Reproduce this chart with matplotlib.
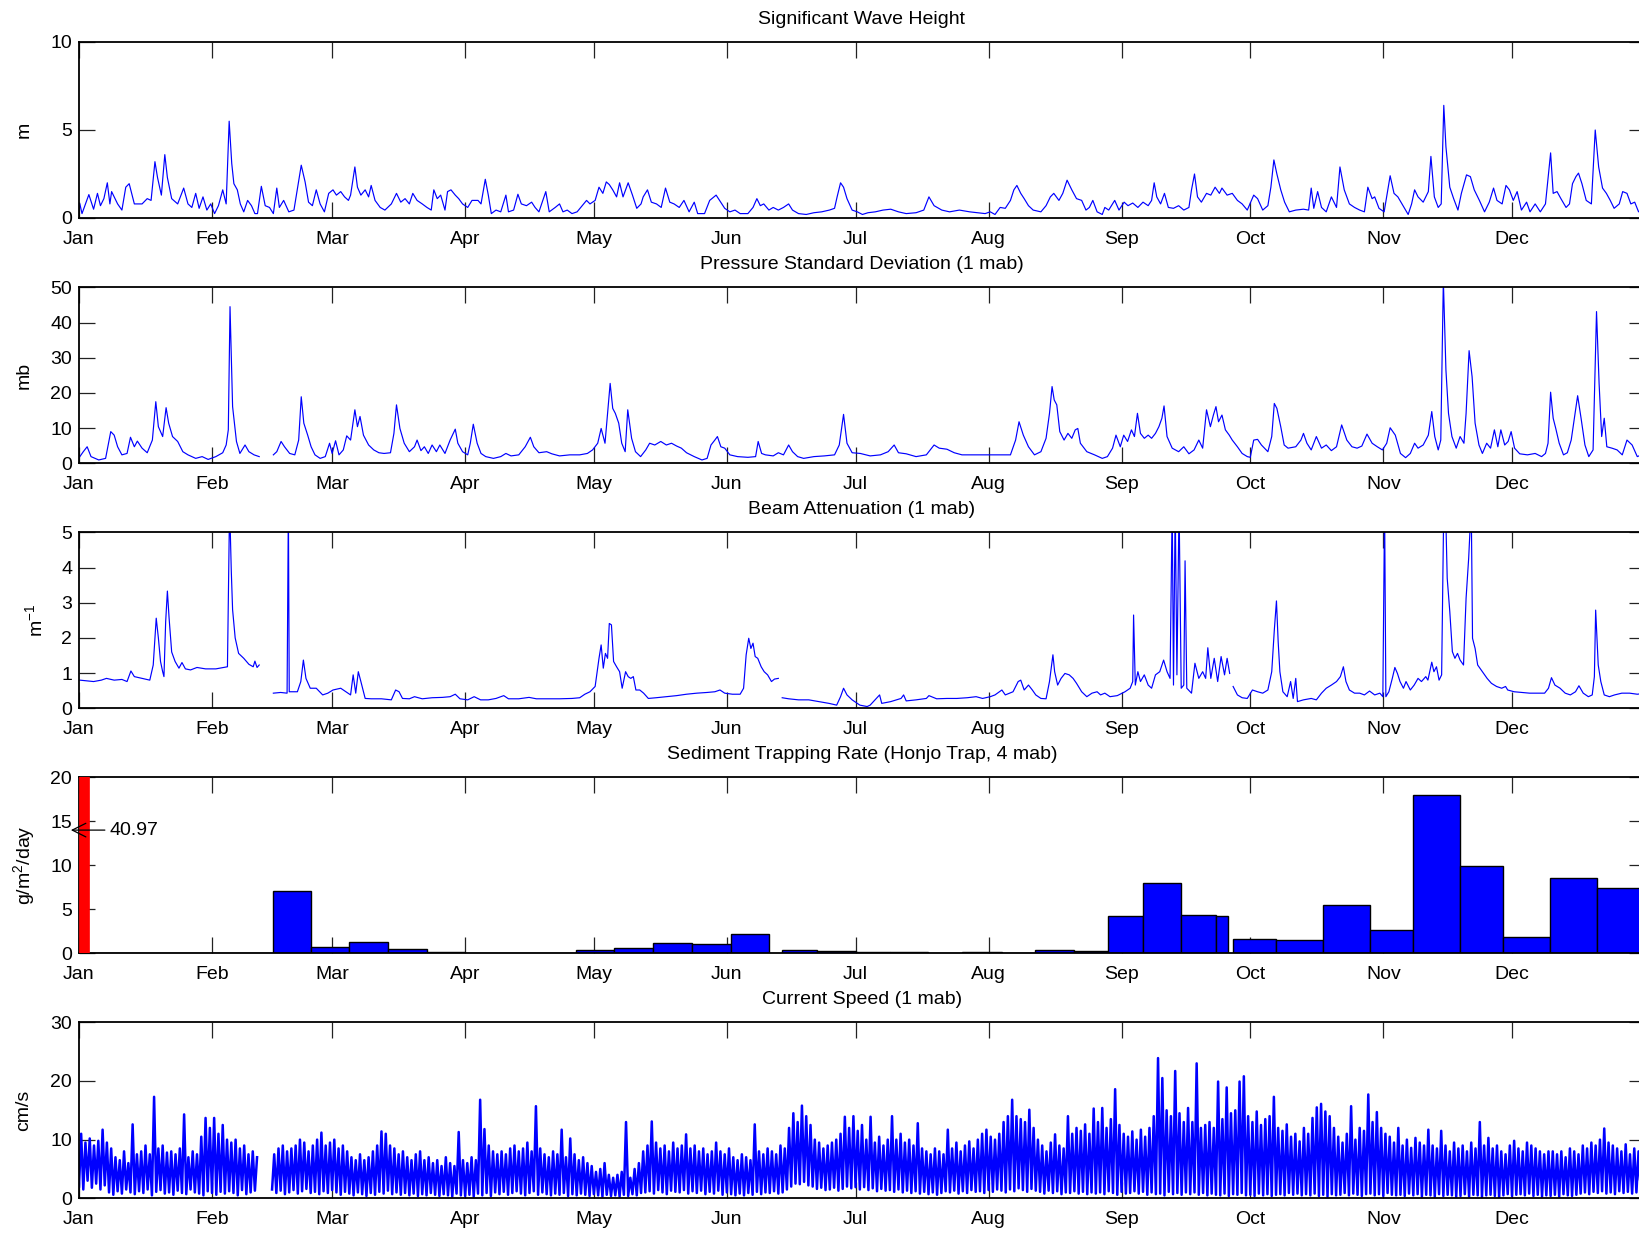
import numpy as np
import matplotlib
matplotlib.use('Agg')
import matplotlib.pyplot as plt

plt.rcParams['font.family'] = ['Liberation Sans', 'DejaVu Sans']
plt.rcParams['mathtext.default'] = 'regular'

# %% data (x in days since Jan 1)
month_days = [0, 31, 59, 90, 120, 151, 181, 212, 243, 273, 304, 334]
month_labels = ['Jan', 'Feb', 'Mar', 'Apr', 'May', 'Jun', 'Jul', 'Aug', 'Sep', 'Oct', 'Nov', 'Dec']

# significant wave height (day, m)
wave = [
    (0.2, 0.8), (0.7, 0.25), (2.3, 1.33), (3.4, 0.5), (4.3, 1.4), (5.0, 0.7), (5.8, 1.1), (6.6, 2.0),
    (7.2, 0.8), (7.6, 1.5), (9.0, 0.8), (10.0, 0.45), (10.9, 1.75), (11.7, 1.95), (12.9, 0.8), (14.7, 0.8),
    (15.9, 1.1), (16.8, 1.0), (17.7, 3.2), (18.3, 2.3), (19.2, 1.3), (20.0, 3.6), (20.6, 2.3), (21.6, 1.1),
    (23.0, 0.8), (24.4, 1.7), (25.4, 0.8), (26.3, 0.6), (27.2, 1.4), (28.0, 0.55), (28.9, 1.2), (29.8, 0.45),
    (30.7, 0.8), (31.6, 0.25), (32.5, 0.7), (33.5, 1.6), (34.3, 0.8), (35.0, 5.5), (35.6, 3.1), (36.1, 1.95),
    (36.9, 1.6), (37.6, 0.8), (38.4, 0.35), (39.3, 1.0), (40.2, 0.7), (41.0, 0.25), (41.6, 0.25), (42.5, 1.8),
    (43.4, 0.7), (44.4, 0.6), (45.3, 0.25), (46.1, 1.7), (46.7, 0.6), (47.7, 1.0), (48.9, 0.35), (50.1, 0.45),
    (51.1, 1.95), (51.8, 3.0), (52.7, 2.05), (53.5, 0.9), (54.4, 0.7), (55.3, 1.6), (56.2, 0.8), (57.2, 0.35),
    (58.2, 1.4), (59.2, 1.6), (60.0, 1.3), (61.0, 1.5), (61.9, 1.2), (62.8, 1.0), (63.3, 1.3), (64.3, 2.9),
    (64.9, 1.75), (65.7, 1.3), (66.7, 1.6), (67.5, 1.2), (68.1, 1.85), (69.0, 1.0), (70.2, 0.6), (71.3, 0.45),
    (72.8, 0.8), (74.0, 1.4), (75.0, 0.9), (76.0, 1.1), (77.0, 0.8), (77.8, 1.4), (78.8, 1.0), (80.0, 0.8),
    (81.1, 0.6), (82.1, 0.45), (82.7, 1.6), (83.5, 1.1), (84.3, 1.3), (85.3, 0.45), (85.9, 1.5), (86.7, 1.6),
    (87.7, 1.3), (88.5, 1.1), (89.4, 0.8), (90.6, 0.6), (91.6, 1.0), (93.0, 1.0), (93.7, 0.8), (94.7, 2.2),
    (95.4, 1.3), (96.1, 0.25), (97.2, 0.45), (98.3, 0.35), (99.5, 1.3), (100.1, 0.35), (101.3, 0.45), (102.3, 1.35),
    (103.1, 0.8), (104.3, 0.7), (105.5, 0.9), (106.3, 0.6), (107.2, 0.35), (108.8, 1.5), (109.6, 0.35), (111.0, 0.6),
    (112.0, 0.8), (112.8, 0.35), (113.8, 0.45), (114.9, 0.25), (116.1, 0.35), (117.3, 0.7), (118.3, 1.0), (119.1, 0.8),
    (120.3, 1.0), (121.2, 1.75), (122.1, 1.4), (122.9, 2.05), (123.6, 1.9), (124.4, 1.6), (125.3, 1.2), (126.0, 2.0),
    (126.8, 1.2), (128.0, 2.0), (129.0, 1.3), (130.0, 0.55), (131.0, 0.8), (131.5, 1.2), (132.5, 1.6), (133.4, 0.9),
    (134.6, 0.8), (135.7, 0.6), (136.7, 1.7), (137.7, 0.9), (138.7, 0.8), (139.9, 0.6), (141.0, 1.0), (142.2, 0.35),
    (143.4, 0.9), (144.2, 0.25), (145.8, 0.25), (147.0, 1.0), (148.5, 1.3), (149.3, 1.0), (150.5, 0.55), (151.7, 0.35),
    (152.9, 0.45), (154.1, 0.25), (155.9, 0.25), (157.1, 0.6), (158.0, 1.1), (158.8, 0.7), (159.6, 0.8), (160.8, 0.45),
    (161.8, 0.6), (163.0, 0.45), (164.2, 0.6), (165.4, 0.8), (166.3, 0.45), (167.7, 0.25), (169.5, 0.2), (171.3, 0.3),
    (173.1, 0.35), (174.9, 0.45), (176.1, 0.55), (176.7, 1.2), (177.5, 2.0), (178.2, 1.75), (179.0, 1.1), (180.2, 0.45),
    (181.4, 0.35), (182.6, 0.2), (183.9, 0.3), (185.6, 0.35), (187.4, 0.45), (189.2, 0.5), (191.0, 0.35), (192.8, 0.25),
    (195.1, 0.3), (196.9, 0.45), (198.1, 1.2), (199.3, 0.7), (201.1, 0.45), (202.9, 0.35), (205.2, 0.45), (207.6, 0.35),
    (209.4, 0.3), (211.2, 0.25), (212.4, 0.35), (213.5, 0.2), (214.7, 0.6), (215.9, 0.55), (217.1, 1.0), (217.9, 1.6),
    (218.6, 1.85), (219.5, 1.4), (220.3, 1.1), (221.3, 0.7), (222.4, 0.45), (224.2, 0.35), (225.4, 0.7), (226.4, 1.2),
    (227.2, 1.4), (228.4, 1.0), (229.3, 1.4), (230.3, 2.15), (231.4, 1.6), (232.5, 1.1), (233.7, 1.0), (234.7, 0.45),
    (235.5, 0.6), (236.3, 1.0), (237.3, 0.35), (238.5, 0.2), (239.1, 0.6), (240.0, 0.45), (241.4, 1.0), (242.4, 0.45),
    (243.6, 0.9), (244.5, 0.7), (245.6, 0.85), (246.8, 0.6), (248.0, 0.9), (249.2, 0.7), (250.0, 1.0), (250.6, 2.0),
    (251.2, 1.2), (252.1, 0.8), (253.0, 1.4), (253.9, 0.6), (255.1, 0.55), (256.3, 0.7), (257.5, 0.45), (258.7, 0.6),
    (259.3, 1.6), (260.0, 2.5), (260.7, 1.2), (261.6, 0.9), (262.8, 1.4), (263.8, 1.3), (264.8, 1.75), (265.8, 1.4),
    (266.4, 1.7), (267.6, 1.3), (268.8, 1.4), (270.0, 1.0), (271.1, 0.8), (272.3, 0.45), (273.8, 1.3), (274.7, 1.1),
    (275.9, 0.45), (277.1, 0.7), (277.8, 1.75), (278.5, 3.3), (279.2, 2.5), (280.1, 1.6), (281.0, 0.9), (282.1, 0.35),
    (283.6, 0.45), (285.4, 0.5), (286.6, 0.45), (287.2, 1.7), (287.8, 0.55), (288.7, 1.5), (289.6, 0.6), (290.7, 0.35),
    (291.9, 1.2), (293.1, 0.6), (293.9, 2.9), (294.9, 1.6), (296.1, 0.8), (297.3, 0.6), (298.5, 0.45), (299.6, 0.35),
    (300.4, 1.75), (301.4, 1.1), (302.0, 1.2), (303.0, 0.55), (304.2, 0.35), (305.6, 2.4), (306.5, 1.4), (307.4, 1.2),
    (308.6, 0.7), (309.8, 0.2), (310.6, 0.8), (311.3, 1.6), (312.1, 1.2), (313.3, 0.9), (314.5, 1.5), (315.1, 3.5),
    (315.9, 1.2), (316.8, 0.6), (317.5, 0.8), (318.1, 6.4), (318.6, 4.05), (319.5, 1.75), (320.4, 1.1), (321.4, 0.45),
    (322.2, 1.4), (323.4, 2.45), (324.3, 2.35), (325.2, 1.6), (326.4, 1.0), (327.6, 0.35), (328.7, 0.9), (329.7, 1.7),
    (330.5, 1.0), (331.7, 0.8), (332.6, 1.85), (333.4, 1.6), (334.3, 1.0), (335.2, 1.5), (336.2, 0.45), (337.4, 0.9),
    (338.2, 0.35), (339.4, 0.8), (340.6, 0.35), (341.8, 0.8), (343.0, 3.7), (343.6, 1.4), (344.5, 1.5), (345.4, 1.1),
    (346.6, 0.6), (347.4, 0.8), (348.1, 1.95), (348.9, 2.35), (349.5, 2.55), (350.3, 1.95), (351.3, 1.0), (352.5, 0.8),
    (353.4, 5.0), (354.2, 2.9), (355.1, 1.7), (356.0, 1.4), (356.9, 1.0), (357.8, 0.55), (359.0, 0.8), (359.8, 1.5),
    (360.8, 1.4), (361.7, 0.8), (362.6, 0.9), (363.5, 0.35), (364.6, 0.6),
]

# pressure standard deviation at 1 mab (day, mb)
psd = [
    (0.2, 1.9), (1.0, 3.3), (1.9, 4.7), (2.8, 1.9), (4.6, 0.95), (6.2, 1.4), (7.4, 9.0), (8.2, 8.0),
    (9.0, 4.7), (10.0, 2.4), (11.2, 2.8), (12.0, 7.4), (12.9, 4.7), (13.6, 6.3), (14.7, 4.3), (15.9, 3.0),
    (17.1, 6.6), (17.9, 17.5), (18.5, 10.4), (19.5, 7.6), (20.3, 15.8), (20.9, 11.4), (21.8, 7.6), (23.0, 6.2),
    (24.2, 3.3), (25.4, 2.4), (27.2, 1.4), (28.7, 1.9), (30.1, 1.1), (31.9, 1.9), (33.5, 3.0), (34.3, 5.2),
    (34.8, 9.5), (35.2, 44.5), (35.8, 16.1), (36.7, 6.2), (37.5, 2.8), (38.7, 5.2), (39.6, 3.3), (40.8, 2.4),
    (42.0, 1.9), (43.6, np.nan), (45.3, 2.4), (46.1, 3.3), (47.1, 6.2), (47.9, 4.7), (49.1, 2.8), (50.3, 2.4),
    (51.2, 6.6), (51.8, 18.9), (52.4, 11.4), (53.3, 8.0), (54.1, 4.7), (55.0, 2.4), (56.2, 1.4), (57.4, 1.9),
    (58.4, 5.7), (59.0, 2.8), (59.8, 6.4), (60.6, 2.4), (61.6, 3.8), (62.4, 7.8), (63.3, 6.6), (64.3, 15.2),
    (64.9, 10.4), (65.5, 13.3), (66.3, 8.0), (67.5, 5.2), (68.7, 3.8), (69.9, 3.0), (71.1, 2.8), (72.6, 3.0),
    (73.4, 8.5), (74.0, 16.6), (74.8, 9.9), (75.8, 5.7), (77.0, 3.3), (78.2, 4.7), (78.8, 6.6), (79.7, 3.6),
    (80.5, 4.7), (81.4, 2.8), (82.3, 5.2), (83.3, 3.3), (84.1, 5.2), (85.3, 2.8), (86.5, 6.6), (87.7, 9.7),
    (88.3, 5.7), (89.4, 3.3), (90.6, 2.4), (91.2, 5.7), (91.9, 11.1), (92.8, 5.7), (93.7, 2.8), (94.8, 1.9),
    (96.6, 1.4), (98.3, 1.9), (99.5, 2.8), (100.7, 2.1), (102.5, 2.4), (104.0, 4.7), (105.2, 7.4), (106.0, 4.7),
    (107.2, 3.0), (109.0, 3.3), (110.2, 2.7), (112.0, 2.1), (114.4, 2.4), (116.7, 2.4), (118.5, 2.8), (119.7, 3.8),
    (120.9, 5.7), (121.7, 9.9), (122.6, 5.7), (123.2, 14.2), (123.8, 22.7), (124.4, 15.6), (125.0, 14.2), (125.8, 11.4),
    (126.5, 5.7), (127.3, 3.3), (127.9, 15.2), (128.8, 7.1), (129.7, 3.3), (130.9, 1.9), (132.1, 3.8), (133.0, 5.7),
    (134.2, 5.2), (135.6, 6.2), (136.9, 5.2), (138.1, 5.7), (139.3, 4.9), (140.4, 4.3), (141.6, 3.0), (143.4, 1.9),
    (145.2, 0.95), (146.4, 1.4), (147.3, 5.2), (148.2, 6.6), (148.8, 7.6), (149.6, 4.7), (150.5, 4.3), (151.7, 2.4),
    (153.5, 1.9), (155.9, 1.7), (157.7, 1.9), (158.3, 6.2), (159.1, 2.8), (160.0, 2.4), (161.8, 2.1), (163.0, 3.0),
    (164.2, 2.4), (165.4, 5.2), (166.3, 3.3), (167.5, 1.9), (168.9, 1.4), (171.3, 1.9), (173.7, 2.1), (176.1, 2.4),
    (177.2, 5.2), (178.2, 13.9), (179.0, 5.7), (180.2, 3.0), (182.1, 2.8), (184.4, 2.1), (186.8, 2.4), (188.6, 3.3),
    (190.0, 5.2), (191.0, 3.0), (192.8, 2.7), (195.1, 1.9), (197.5, 2.4), (199.3, 5.2), (200.5, 4.3), (202.3, 4.0),
    (204.0, 3.0), (205.8, 2.4), (208.2, 2.4), (210.6, 2.4), (212.9, 2.4), (215.3, 2.4), (217.1, 2.4), (218.3, 6.6),
    (219.1, 11.8), (220.1, 8.0), (221.3, 4.7), (222.7, 2.4), (224.2, 3.3), (225.4, 7.1), (226.2, 14.2), (226.8, 21.8),
    (227.3, 18.0), (227.9, 16.6), (228.6, 9.0), (229.6, 6.6), (230.5, 8.5), (231.4, 7.1), (232.2, 9.5), (232.8, 9.9),
    (233.4, 5.7), (234.9, 3.3), (236.7, 2.4), (238.5, 1.4), (239.7, 1.9), (240.9, 4.3), (241.7, 8.0), (242.7, 4.7),
    (243.5, 8.0), (244.4, 6.2), (245.3, 9.5), (246.0, 7.6), (246.7, 14.2), (247.4, 8.5), (248.3, 7.1), (249.2, 8.0),
    (250.0, 7.1), (250.9, 8.5), (251.7, 10.4), (252.4, 12.8), (252.9, 16.3), (253.6, 7.6), (254.8, 4.3), (256.3, 3.3),
    (257.5, 4.7), (258.7, 2.7), (259.9, 3.8), (261.0, 6.6), (261.9, 4.3), (262.8, 15.2), (263.7, 10.4), (264.4, 13.7),
    (265.0, 16.1), (265.6, 11.8), (266.4, 13.7), (267.2, 9.5), (268.1, 8.0), (268.8, 6.6), (270.0, 4.7), (271.1, 2.8),
    (272.3, 1.9), (273.0, 1.7), (273.8, 6.6), (274.7, 6.8), (275.6, 5.2), (277.1, 3.3), (278.0, 7.6), (278.6, 17.0),
    (279.2, 15.6), (280.1, 10.4), (280.9, 5.2), (281.8, 4.3), (283.6, 4.7), (284.8, 6.6), (285.4, 8.5), (286.2, 5.7),
    (287.2, 3.8), (288.4, 7.6), (289.6, 4.3), (290.7, 5.2), (291.9, 3.6), (293.1, 4.7), (294.3, 10.9), (295.5, 6.6),
    (296.7, 4.7), (297.9, 4.3), (299.0, 4.9), (300.2, 8.3), (301.4, 5.7), (302.6, 4.7), (303.8, 3.8), (304.8, 5.7),
    (305.6, 10.1), (306.8, 8.0), (308.0, 2.8), (309.2, 1.6), (310.3, 2.8), (311.3, 5.7), (312.1, 4.3), (313.3, 5.2),
    (314.5, 8.0), (315.3, 14.7), (316.0, 7.6), (316.8, 3.8), (317.4, 6.6), (318.0, 52.0), (318.6, 26.5), (319.2, 14.2),
    (320.0, 7.6), (321.0, 4.3), (321.9, 7.6), (322.8, 5.7), (323.3, 14.2), (324.0, 32.0), (324.7, 24.6), (325.4, 11.4),
    (326.3, 5.2), (327.1, 2.8), (328.1, 5.7), (329.0, 4.3), (329.9, 9.5), (330.7, 4.7), (331.4, 9.5), (332.3, 5.2),
    (333.1, 6.2), (333.8, 9.0), (334.6, 4.3), (335.8, 2.7), (337.6, 2.4), (339.4, 2.8), (340.9, 1.9), (341.8, 2.8),
    (342.4, 5.7), (343.0, 20.2), (343.6, 12.8), (344.2, 9.9), (345.0, 5.7), (346.0, 2.4), (346.9, 3.0), (347.8, 6.6),
    (348.6, 13.3), (349.3, 19.2), (350.1, 12.8), (351.0, 5.2), (351.9, 1.9), (352.9, 3.8), (353.7, 43.1), (354.3, 22.7),
    (354.9, 7.6), (355.5, 12.8), (356.1, 4.7), (357.3, 4.3), (358.5, 3.8), (359.7, 2.4), (360.8, 6.6), (362.0, 5.2),
    (363.2, 1.9), (364.6, 2.6),
]

# beam attenuation at 1 mab (day, 1/m), nan marks gaps
beam = [
    (0.2, 0.8), (1.7, 0.78), (3.4, 0.76), (5.2, 0.8), (6.4, 0.85), (8.2, 0.8), (10.0, 0.82), (11.2, 0.76),
    (12.1, 1.06), (12.9, 0.9), (14.7, 0.85), (16.5, 0.8), (17.3, 1.23), (18.0, 2.56), (18.5, 2.0), (19.0, 1.33),
    (19.5, 1.04), (19.8, 0.9), (20.2, 2.46), (20.6, 3.33), (21.0, 2.56), (21.6, 1.6), (22.4, 1.33), (23.3, 1.14),
    (24.0, 1.3), (24.8, 1.12), (26.0, 1.09), (27.5, 1.16), (29.5, 1.12), (31.9, 1.12), (33.7, 1.16), (34.6, 1.18),
    (35.1, 5.8), (35.5, 3.88), (35.8, 2.8), (36.4, 2.0), (37.2, 1.56), (38.4, 1.42), (39.6, 1.25), (40.6, 1.18),
    (41.0, 1.34), (41.5, 1.16), (42.0, 1.23), (43.6, np.nan),
    (45.3, 0.43), (47.0, 0.45), (48.5, 0.43), (48.8, 5.8), (49.0, 0.47), (50.9, 0.47), (51.7, 0.76), (52.3, 1.37),
    (52.9, 0.85), (53.9, 0.57), (55.3, 0.57), (56.8, 0.38), (58.0, 0.43), (59.2, 0.52), (61.0, 0.57), (62.2, 0.47),
    (63.3, 0.38), (63.9, 0.95), (64.5, 0.43), (65.1, 1.04), (65.7, 0.76), (66.7, 0.28), (68.1, 0.27), (70.5, 0.27),
    (72.8, 0.24), (73.8, 0.52), (74.6, 0.47), (75.4, 0.28), (77.0, 0.27), (78.2, 0.33), (80.0, 0.27), (82.3, 0.3),
    (84.7, 0.31), (86.5, 0.33), (87.7, 0.4), (88.8, 0.27), (90.6, 0.24), (92.1, 0.33), (93.6, 0.24), (95.4, 0.24),
    (97.2, 0.28), (99.0, 0.36), (100.1, 0.27), (102.5, 0.27), (104.9, 0.31), (106.6, 0.27), (109.0, 0.27), (112.0, 0.27),
    (114.9, 0.28), (116.7, 0.3), (117.9, 0.4), (119.1, 0.47), (120.3, 0.62), (121.2, 1.42), (121.7, 1.8), (122.2, 1.14),
    (122.7, 1.56), (123.2, 1.42), (123.6, 2.41), (124.1, 2.37), (124.6, 1.33), (125.3, 1.18), (126.0, 1.04), (126.6, 0.57),
    (127.4, 1.04), (128.0, 0.9), (128.6, 0.85), (129.2, 0.9), (129.8, 0.52), (130.7, 0.52), (131.6, 0.43), (132.7, 0.28),
    (134.5, 0.3), (136.9, 0.33), (139.3, 0.36), (141.6, 0.4), (144.0, 0.43), (146.4, 0.45), (148.2, 0.47), (149.4, 0.52),
    (150.5, 0.43), (152.3, 0.4), (154.1, 0.4), (154.9, 0.57), (155.5, 1.52), (156.1, 1.99), (156.6, 1.7), (157.1, 1.85),
    (157.6, 1.47), (158.2, 1.42), (159.0, 1.18), (159.7, 1.04), (160.5, 0.95), (161.4, 0.76), (162.1, 0.83), (163.0, 0.85),
    (163.5, np.nan),
    (163.9, 0.3), (165.4, 0.27), (167.7, 0.24), (170.1, 0.24), (172.5, 0.19), (174.8, 0.14), (176.6, 0.09), (177.5, 0.33),
    (178.2, 0.57), (179.0, 0.38), (180.2, 0.24), (182.0, 0.09), (183.7, 0.05), (184.4, 0.09), (186.6, 0.38), (187.1, 0.14),
    (189.2, 0.19), (191.6, 0.28), (192.2, 0.38), (192.8, 0.21), (195.1, 0.24), (197.5, 0.28), (198.1, 0.36), (199.9, 0.27),
    (202.3, 0.28), (204.6, 0.28), (207.0, 0.3), (209.1, 0.33), (210.6, 0.28), (212.4, 0.33), (213.5, 0.38), (215.1, 0.52),
    (215.9, 0.38), (217.7, 0.47), (218.9, 0.76), (219.5, 0.8), (220.3, 0.52), (221.3, 0.66), (222.2, 0.52), (223.0, 0.38),
    (224.2, 0.28), (225.4, 0.27), (226.2, 0.76), (227.0, 1.52), (227.4, 1.04), (228.1, 0.66), (228.9, 0.85), (229.8, 0.99),
    (230.8, 0.95), (231.7, 0.85), (232.5, 0.71), (233.7, 0.47), (234.9, 0.33), (236.1, 0.43), (237.3, 0.47), (238.1, 0.38),
    (239.1, 0.43), (240.3, 0.33), (242.0, 0.36), (243.8, 0.47), (245.0, 0.57), (245.6, 0.76), (245.8, 2.65), (246.2, 0.66),
    (246.8, 1.04), (247.4, 0.76), (248.3, 0.95), (249.2, 0.66), (250.0, 0.57), (250.9, 0.95), (251.9, 1.04), (252.8, 1.37),
    (253.6, 1.04), (254.3, 0.85), (254.8, 5.8), (255.1, 0.66), (255.5, 5.8), (255.9, 0.95), (256.4, 5.8), (256.9, 0.57),
    (257.5, 0.66), (257.8, 4.19), (258.2, 0.57), (259.3, 0.43), (260.1, 1.28), (261.0, 0.85), (261.9, 1.04), (262.6, 0.85),
    (263.1, 1.72), (263.8, 0.85), (264.6, 1.42), (265.4, 0.76), (266.2, 1.47), (267.0, 0.95), (267.6, 1.42), (268.2, 0.99),
    (268.6, np.nan),
    (269.0, 0.62), (270.0, 0.38), (271.1, 0.3), (272.3, 0.28), (273.5, 0.52), (274.7, 0.47), (275.9, 0.43), (277.1, 0.52),
    (278.0, 1.04), (278.6, 2.22), (279.1, 3.05), (279.5, 1.89), (279.9, 1.04), (280.6, 0.47), (281.6, 0.33), (282.4, 0.76),
    (283.0, 0.28), (283.6, 0.85), (284.0, 0.19), (285.4, 0.24), (287.2, 0.28), (288.4, 0.24), (289.6, 0.43), (290.7, 0.57),
    (291.9, 0.66), (293.1, 0.76), (294.0, 0.9), (294.7, 1.18), (295.3, 0.76), (296.1, 0.52), (297.3, 0.43), (298.5, 0.43),
    (299.6, 0.38), (300.8, 0.49), (302.0, 0.38), (303.2, 0.43), (303.9, 0.33), (304.3, 5.8), (304.6, 0.33), (305.3, 0.47),
    (306.1, 0.85), (306.7, 1.16), (307.3, 0.99), (307.9, 0.76), (308.7, 0.57), (309.3, 0.76), (310.3, 0.52), (311.2, 0.66),
    (312.1, 0.85), (312.9, 0.76), (313.9, 0.9), (314.4, 0.8), (315.3, 1.31), (315.8, 1.04), (316.4, 1.18), (317.0, 0.8),
    (317.6, 0.95), (318.1, 5.8), (318.5, 5.8), (318.9, 3.69), (319.5, 2.75), (320.1, 1.61), (320.7, 1.42), (321.3, 1.56),
    (321.9, 1.37), (322.7, 1.23), (323.3, 3.13), (323.9, 4.26), (324.5, 5.8), (324.8, 1.99), (325.4, 1.7), (326.0, 1.23),
    (326.8, 1.09), (327.4, 0.99), (328.2, 0.85), (329.2, 0.71), (330.4, 0.62), (331.6, 0.57), (332.5, 0.62), (333.0, 0.52),
    (334.5, 0.47), (336.3, 0.45), (338.1, 0.43), (339.9, 0.43), (341.6, 0.43), (342.5, 0.57), (343.2, 0.87), (344.0, 0.66),
    (345.2, 0.57), (346.4, 0.43), (347.6, 0.38), (348.8, 0.47), (349.6, 0.64), (350.6, 0.43), (351.8, 0.33), (352.7, 0.38),
    (353.2, 0.9), (353.5, 2.79), (354.1, 1.23), (354.7, 0.76), (355.5, 0.38), (356.7, 0.33), (357.9, 0.38), (359.6, 0.43),
    (361.4, 0.43), (363.2, 0.4), (364.6, 0.42),
]

# sediment trap samples: start day, end day, rate (g/m2/day)
trap_start = [0.0, 2.25, 45.2, 54.0, 63.0, 72.0, 81.0, 90.0, 97.7, 106.6, 115.9, 124.8, 133.9, 142.9, 152.0,
              163.8, 171.9, 181.0, 189.0, 197.9, 205.9, 215.1, 222.8, 232.0, 239.9, 247.9, 256.9, 265.0,
              268.9, 279.0, 289.9, 301.0, 310.9, 321.9, 331.8, 342.9, 353.9]
trap_end = [2.25, 45.2, 54.0, 63.0, 72.0, 81.0, 90.0, 97.7, 106.6, 115.9, 124.8, 133.9, 142.9, 152.0, 160.9,
            171.9, 181.0, 189.0, 197.9, 205.9, 215.1, 222.8, 232.0, 239.9, 247.9, 256.9, 265.0, 267.9,
            279.0, 289.9, 301.0, 310.9, 321.9, 331.8, 342.9, 353.9, 365.5]
trap_rate = [40.97, 0.05, 7.1, 0.75, 1.32, 0.5, 0.1, 0.05, 0.08, 0.05, 0.42, 0.57, 1.2, 1.1, 2.2,
             0.42, 0.3, 0.15, 0.19, 0.08, 0.15, 0.08, 0.42, 0.26, 4.2, 8.0, 4.4, 4.2,
             1.6, 1.5, 5.5, 2.7, 18.0, 9.9, 1.8, 8.6, 7.4]
trap_ymax = 20

# current speed at 1 mab: daily high / low (cm/s), one row per week
speed_hi = [
    11.0, 9.5, 10.2, 9.0, 9.8, 11.7, 9.5,
    8.5, 7.0, 6.5, 8.0, 6.0, 12.6, 7.5,
    8.0, 9.0, 7.5, 17.3, 8.5, 9.0, 7.8,
    8.0, 7.5, 8.5, 14.3, 7.0, 8.0, 7.5,
    10.5, 13.7, 12.0, 13.7, 11.0, 12.5, 10.0,
    9.5, 10.0, 8.5, 9.0, 7.5, 8.0, 7.0,
    np.nan, np.nan, np.nan, 7.5, 8.5, 9.0, 8.0,
    8.5, 9.0, 10.0, 9.5, 8.0, 9.0, 10.0,
    11.2, 9.0, 9.5, 10.0, 8.5, 9.0, 8.0,
    7.0, 6.5, 7.5, 6.5, 7.0, 8.0, 9.0,
    11.4, 11.0, 9.0, 8.5, 7.5, 8.0, 7.0,
    6.5, 7.5, 8.0, 6.5, 7.0, 6.0, 6.5,
    5.5, 7.0, 6.0, 5.5, 11.3, 6.5, 6.0,
    7.0, 6.5, 16.8, 11.8, 9.0, 8.0, 7.5,
    8.0, 7.5, 8.5, 9.0, 8.0, 8.5, 9.5,
    8.0, 15.7, 8.5, 7.5, 7.0, 8.0, 7.5,
    11.7, 7.0, 10.2, 7.5, 6.5, 7.0, 6.0,
    5.5, 4.5, 5.0, 6.0, 4.0, 3.5, 4.0,
    4.5, 13.0, 3.5, 5.0, 6.0, 8.0, 9.0,
    13.1, 9.5, 8.5, 9.0, 8.0, 9.5, 8.5,
    9.0, 10.9, 8.5, 9.0, 8.0, 8.5, 7.5,
    8.0, 9.5, 8.0, 7.5, 8.5, 7.0, 6.5,
    7.5, 7.0, 6.5, 12.6, 8.0, 7.5, 8.5,
    8.0, 7.5, 9.0, 8.5, 12.0, 14.5, 13.0,
    15.8, 14.0, 12.5, 10.0, 9.5, 8.5, 9.0,
    9.5, 10.0, 11.0, 13.9, 12.0, 14.0, 11.5,
    12.5, 10.0, 13.9, 9.5, 10.5, 9.0, 10.0,
    14.0, 10.0, 11.0, 9.5, 10.0, 9.0, 12.8,
    8.5, 8.0, 7.5, 8.5, 8.0, 7.5, 11.7,
    8.5, 9.5, 8.0, 9.0, 9.7, 8.5, 10.0,
    11.0, 11.7, 10.5, 10.0, 11.0, 13.0, 14.0,
    16.8, 14.0, 13.5, 13.0, 15.1, 12.0, 10.0,
    9.0, 8.0, 9.5, 10.9, 9.0, 8.5, 14.0,
    11.0, 12.0, 11.5, 12.6, 11.0, 15.3, 13.0,
    15.4, 12.0, 13.5, 18.6, 12.5, 11.0, 10.5,
    11.4, 10.0, 11.7, 10.5, 12.0, 14.0, 23.9,
    20.5, 15.0, 14.0, 21.7, 14.5, 13.0, 15.4,
    13.0, 23.0, 12.0, 12.5, 13.0, 12.0, 19.9,
    13.5, 18.9, 14.5, 15.0, 19.9, 20.8, 14.0,
    13.0, 14.8, 12.5, 13.5, 14.0, 17.3, 12.0,
    11.5, 12.6, 10.5, 11.0, 9.7, 12.0, 11.0,
    13.7, 15.5, 16.1, 14.8, 14.0, 12.0, 10.5,
    9.5, 11.0, 15.7, 10.0, 12.0, 11.5, 17.7,
    13.0, 14.7, 12.0, 11.0, 10.5, 9.5, 12.0,
    9.0, 10.0, 8.6, 10.3, 9.5, 9.0, 11.7,
    9.0, 8.5, 11.5, 9.0, 8.0, 9.5, 8.5,
    9.0, 8.0, 9.5, 8.5, 13.0, 9.0, 10.3,
    8.5, 9.0, 8.0, 7.5, 9.0, 9.8, 8.5,
    8.0, 9.5, 9.0, 8.5, 8.0, 7.5, 8.0,
    8.0, 7.5, 8.0, 7.0, 8.5, 8.0, 7.5,
    9.0, 8.5, 9.5, 9.0, 10.0, 11.9, 9.5,
    9.0, 8.5, 8.0, 9.2, 7.5, 8.5, 8.0,
    7.5,
]
speed_lo = [
    2.0, 1.5, 3.0, 1.8, 2.5, 1.5, 2.2,
    1.0, 0.6, 1.2, 0.8, 1.5, 1.0, 0.7,
    1.2, 0.9, 1.5, 0.5, 1.1, 1.4, 0.8,
    1.0, 0.6, 1.3, 0.9, 0.7, 1.5, 1.0,
    0.8, 0.5, 1.2, 0.9, 0.6, 1.1, 0.8,
    1.2, 0.9, 0.5, 1.4, 0.7, 1.0, 1.3,
    np.nan, np.nan, np.nan, 1.5, 0.9, 1.3, 0.7,
    1.0, 1.4, 0.8, 1.2, 1.6, 0.9, 1.1,
    0.7, 1.2, 0.9, 1.4, 1.0, 0.6, 1.1,
    0.8, 0.5, 1.0, 0.7, 0.4, 0.9, 0.6,
    1.1, 0.8, 1.3, 0.7, 1.0, 0.6, 0.9,
    0.5, 0.8, 0.4, 0.7, 0.5, 0.9, 0.6,
    0.4, 0.7, 0.5, 0.3, 0.8, 0.5, 0.4,
    0.6, 0.3, 0.8, 0.5, 0.9, 0.4, 1.0,
    0.7, 1.1, 0.6, 0.9, 1.2, 0.8, 0.5,
    0.9, 1.2, 0.6, 1.0, 0.7, 0.5, 0.8,
    0.6, 0.9, 0.4, 0.7, 0.5, 0.8, 0.6,
    0.4, 0.7, 0.5, 0.3, 0.6, 0.4, 0.5,
    0.3, 0.6, 0.4, 0.7, 0.5, 0.9, 1.0,
    1.2, 0.8, 1.4, 1.0, 0.7, 1.3, 1.1,
    1.0, 1.4, 0.8, 1.2, 0.9, 1.3, 0.7,
    1.1, 0.8, 1.3, 0.6, 1.0, 0.7, 0.5,
    0.8, 0.5, 0.9, 0.6, 1.1, 0.7, 1.0,
    0.9, 1.2, 0.8, 1.0, 1.5, 2.0, 2.5,
    2.4, 2.8, 2.2, 2.0, 1.6, 1.8, 1.4,
    1.5, 1.8, 1.3, 1.6, 2.0, 1.7, 1.9,
    1.5, 1.9, 1.4, 1.7, 1.2, 1.6, 1.3,
    1.4, 1.1, 1.5, 1.0, 1.3, 0.9, 1.2,
    0.8, 1.1, 0.7, 1.0, 0.6, 0.9, 1.2,
    1.0, 1.3, 0.8, 1.2, 0.9, 1.4, 1.1,
    1.2, 0.9, 1.4, 1.1, 1.5, 1.3, 1.0,
    1.5, 1.2, 1.7, 1.4, 1.1, 1.6, 1.3,
    1.1, 0.8, 1.3, 0.9, 1.2, 0.7, 1.0,
    0.9, 1.2, 0.8, 1.1, 0.7, 1.0, 0.8,
    1.0, 0.7, 1.2, 0.9, 0.6, 1.1, 0.8,
    0.9, 1.2, 0.8, 1.1, 0.6, 1.0, 0.7,
    0.8, 0.5, 1.1, 0.7, 0.9, 0.6, 1.0,
    0.7, 1.0, 0.6, 0.9, 0.5, 0.8, 0.6,
    0.5, 0.8, 0.4, 0.7, 0.6, 0.9, 0.5,
    0.6, 0.4, 0.8, 0.5, 0.7, 0.4, 0.6,
    0.7, 0.5, 0.9, 0.6, 0.8, 0.5, 0.7,
    0.5, 0.8, 0.4, 0.6, 0.3, 0.7, 0.5,
    0.6, 0.9, 0.5, 0.8, 0.6, 0.4, 0.7,
    0.8, 0.5, 0.7, 0.4, 0.9, 0.6, 0.5,
    0.6, 0.4, 0.8, 0.5, 0.7, 0.3, 0.6,
    0.5, 0.3, 0.7, 0.4, 0.6, 0.5, 0.3,
    0.4, 0.7, 0.3, 0.6, 0.5, 0.2, 0.5,
    0.6, 0.4, 0.2, 0.5, 0.7, 0.4, 0.6,
    0.7, 0.5, 0.8, 0.4, 0.6, 0.3, 0.5,
    0.4, 0.6, 0.3, 0.7, 0.5, 0.4, 0.6,
    0.8, 1.0, 0.7, 1.1, 0.9, 1.2, 0.8,
    1.0, 0.7, 1.2, 0.9, 1.1, 0.8, 1.0,
    0.9,
]

# %% figure
W, H = 1640, 1233
fig = plt.figure(figsize=(W / 100, H / 100), dpi=100)

ax_left = 79 / W
ax_width = 1566 / W
ax_height = 176 / H
ax_tops = [42, 287.3, 532.3, 777.3, 1022.3]
fs = 14

def make_axes(i, title, ylabel, ylim, yticks, ylab_x=24):
    top = ax_tops[i]
    ax = fig.add_axes([ax_left, 1 - (top + 176) / H, ax_width, ax_height])
    ax.set_xlim(0, 365)
    ax.set_ylim(*ylim)
    ax.set_yticks(yticks)
    ax.set_xticks(month_days)
    ax.set_xticklabels(month_labels)
    ax.tick_params(direction='in', length=11.3, width=0.9, top=True, right=True,
                   labelsize=fs, color='#222222')
    ax.tick_params(axis='x', pad=9.5)
    ax.tick_params(axis='y', pad=5)
    for s in ax.spines.values():
        s.set_linewidth(1.3)
    ax.set_title(title, fontsize=fs, pad=13)
    fig.text(ylab_x / W, 1 - (top + 88) / H, ylabel, rotation=90, ha='center', va='center', fontsize=fs)
    return ax

blue = (0, 0, 1)

ax1 = make_axes(0, 'Significant Wave Height', 'm', (0, 10), [0, 5, 10])
wave_t, wave_h = np.array(wave).T
ax1.plot(wave_t, wave_h, color=blue, lw=0.85)

ax2 = make_axes(1, 'Pressure Standard Deviation (1 mab)', 'mb', (0, 50), [0, 10, 20, 30, 40, 50])
psd_t, psd_v = np.array(psd).T
ax2.plot(psd_t, psd_v, color=blue, lw=0.85)

ax3 = make_axes(2, 'Beam Attenuation (1 mab)', 'm$^{-1}$', (0, 5), [0, 1, 2, 3, 4, 5], ylab_x=35)
beam_t, beam_v = np.array(beam).T
ax3.plot(beam_t, beam_v, color=blue, lw=0.85)

ax4 = make_axes(3, 'Sediment Trapping Rate (Honjo Trap, 4 mab)', 'g/m$^2$/day', (0, trap_ymax), [0, 5, 10, 15, 20])
t0 = np.array(trap_start)
t1 = np.array(trap_end)
rate = np.array(trap_rate)
over = rate > trap_ymax
ax4.bar(t0[~over], rate[~over], width=(t1 - t0)[~over], align='edge',
        color=blue, edgecolor='black', linewidth=1.0, zorder=2)
ax4.bar(t0[over], rate[over], width=(t1 - t0)[over], align='edge',
        color='red', edgecolor='red', linewidth=0.5, zorder=3)
for x, r in zip(t0[over], rate[over]):
    ax4.annotate(f'{r:.2f}', xy=(x - 1.9, 14.0), xytext=(x + 7.0, 14.0),
                 ha='left', va='center', fontsize=fs, annotation_clip=False,
                 arrowprops=dict(arrowstyle='->,head_length=0.7,head_width=0.35', lw=0.9,
                                 color='black', shrinkA=1, shrinkB=0))

ax5 = make_axes(4, 'Current Speed (1 mab)', 'cm/s', (0, 30), [0, 10, 20, 30])
days = np.arange(len(speed_hi))
spd_t = np.column_stack([days, days + 0.5]).ravel()
spd_v = np.column_stack([speed_lo, speed_hi]).ravel()
ax5.plot(spd_t, spd_v, color=blue, lw=1.8)

fig.savefig('out.png', dpi=100)
